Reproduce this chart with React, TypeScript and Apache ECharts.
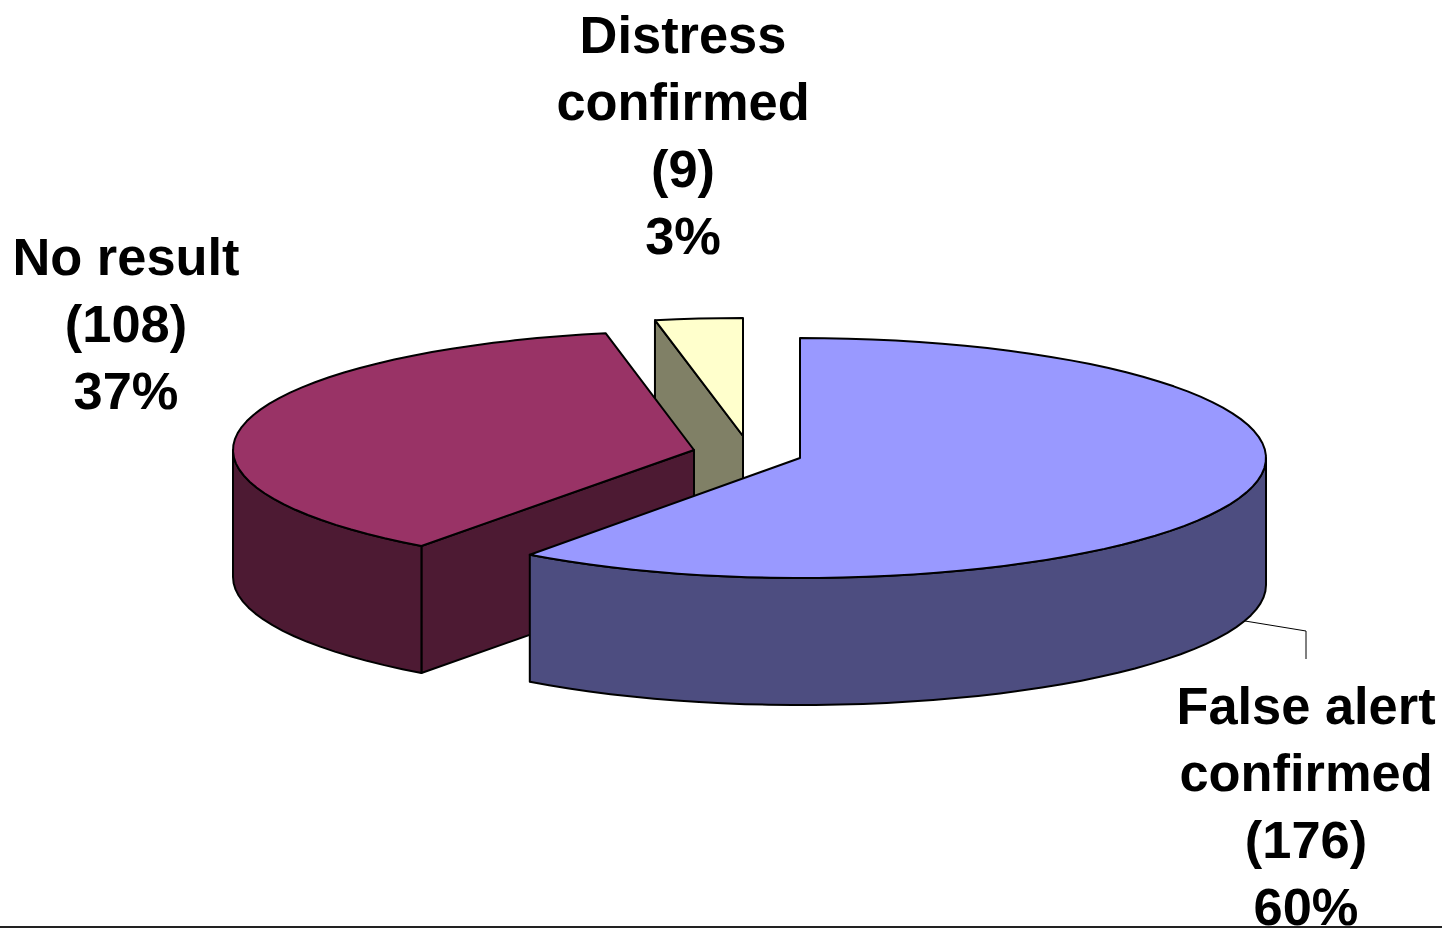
import React, { useEffect, useRef } from "react";
import * as echarts from "echarts";

// Data, in clockwise slice order from the top of the pie
const categories = ["False alert\nconfirmed", "No result", "Distress\nconfirmed"];
const counts = [176, 108, 9];

// Layout and style, per slice
const topColors = ["#9999FF", "#993366", "#FFFFCC"];
const sideColors = ["#4D4D80", "#4D1A33", "#808066"];
const centers = [[800, 458], [694, 450], [743, 436]];
const radiiRight = [466, 462, 462];
const radiiLeft = [457, 461, 459];
const radiiY = [120, 119, 118];
const labelCenters = [[1306, 806.5], [126, 323.5], [683, 135.5]];
const DEPTH = 127;
const STROKE = 2;
const FONT = 'bold 52.4px "Liberation Sans", Arial, sans-serif';
const LINE_HEIGHT = 67;
const LEADER = [[1245, 621], [1306, 631], [1306, 659]];

const total = counts.reduce((a, b) => a + b, 0);
const starts = counts.map((_, i) => (counts.slice(0, i).reduce((a, b) => a + b, 0) / total) * 360);
const ends = counts.map((c, i) => starts[i] + (c / total) * 360);

function arcPoint(i: number, deg: number, drop = 0): number[] {
  const r = (deg * Math.PI) / 180;
  const s = Math.sin(r);
  return [
    centers[i][0] + (s >= 0 ? radiiRight[i] : radiiLeft[i]) * s,
    centers[i][1] - radiiY[i] * Math.cos(r) + drop,
  ];
}

function arcPoints(i: number, from: number, to: number, drop = 0): number[][] {
  const steps = Math.max(2, Math.ceil((to - from) / 3));
  const pts: number[][] = [];
  for (let s = 0; s <= steps; s++) pts.push(arcPoint(i, from + ((to - from) * s) / steps, drop));
  return pts;
}

function sliceShapes(i: number) {
  const [cx, cy] = centers[i];
  const a = starts[i];
  const b = ends[i];
  const edge = { stroke: "#000", lineWidth: STROKE, lineJoin: "round" };
  const side = { ...edge, fill: sideColors[i] };
  const face = (deg: number) => {
    const p = arcPoint(i, deg);
    return {
      type: "polygon",
      shape: { points: [[cx, cy], p, [p[0], p[1] + DEPTH], [cx, cy + DEPTH]] },
      style: side,
    };
  };
  const children: any[] = [];
  // A cut face is seen only when it turns towards the viewer
  if (a > 180 && a < 360) children.push(face(a));
  if (b > 0 && b < 180) children.push(face(b));
  const from = Math.max(a, 90);
  const to = Math.min(b, 270);
  if (to > from) {
    children.push({
      type: "polygon",
      shape: { points: [...arcPoints(i, from, to), ...arcPoints(i, from, to, DEPTH).reverse()] },
      style: side,
    });
  }
  children.push({
    type: "polygon",
    shape: { points: [[cx, cy], ...arcPoints(i, a, b)] },
    style: { ...edge, fill: topColors[i] },
  });
  return children;
}

// Back slices are painted first
const paintOrder = counts.map((_, i) => i).reverse();

export default function App() {
  const ref = useRef<HTMLDivElement>(null);
  useEffect(() => {
    const chart = echarts.init(ref.current!, undefined, { renderer: "svg" });
    chart.setOption({
      animation: false,
      backgroundColor: "#fff",
      series: [
        {
          type: "custom",
          coordinateSystem: "none",
          silent: true,
          data: paintOrder.map((i) => ({ name: categories[i], value: counts[i] })),
          renderItem: (params: any) => {
            const i = paintOrder[params.dataIndex];
            const pct = Math.round((counts[i] / total) * 100);
            const children: any[] = sliceShapes(i);
            if (i === 0) {
              children.push({
                type: "polyline",
                shape: { points: LEADER },
                style: { stroke: "#000", lineWidth: 1, fill: "none" },
              });
            }
            children.push({
              type: "text",
              x: labelCenters[i][0],
              y: labelCenters[i][1],
              style: {
                text: `${categories[i]}\n(${counts[i]})\n${pct}%`,
                font: FONT,
                fill: "#000",
                align: "center",
                verticalAlign: "middle",
                lineHeight: LINE_HEIGHT,
              },
            });
            return { type: "group", children };
          },
        },
      ],
    });
    return () => chart.dispose();
  }, []);
  return (
    <div style={{ position: "fixed", left: 0, top: 0, width: 1442, height: 928, background: "#fff", overflow: "hidden" }}>
      <div ref={ref} style={{ width: 1442, height: 926 }} />
      <div style={{ width: 1442, height: 1.5, background: "#222" }} />
    </div>
  );
}
